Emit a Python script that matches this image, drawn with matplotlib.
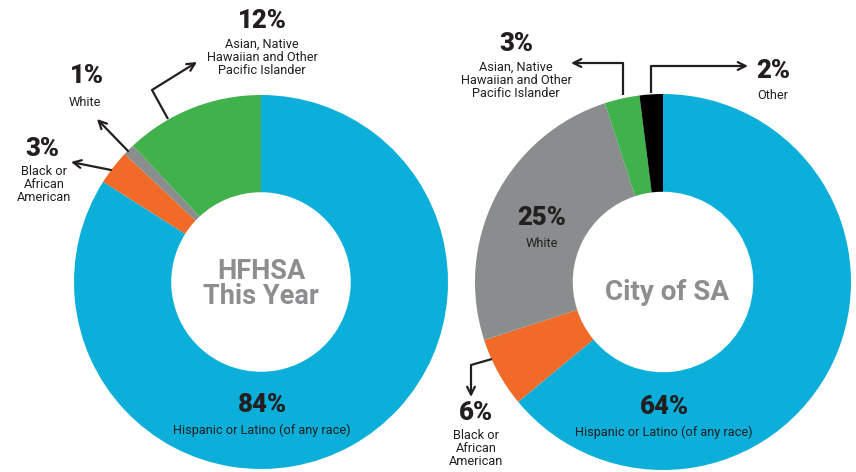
import matplotlib.pyplot as plt

plt.rcParams['font.family'] = ['Roboto', 'DejaVu Sans']

# data
left_labels = ["Hispanic or Latino (of any race)", "Black or\nAfrican\nAmerican", "White",
               "Asian, Native\nHawaiian and Other\nPacific Islander"]
left_values = [84, 3, 1, 12]
left_colors = ["#0BAFD9", "#F26A27", "#8A8D8D", "#40B14B"]

right_labels = ["Hispanic or Latino (of any race)", "Black or\nAfrican\nAmerican", "White",
                "Asian, Native\nHawaiian and Other\nPacific Islander", "Other"]
right_values = [64, 6, 25, 3, 2]
right_colors = ["#0BAFD9", "#F26A27", "#8A8D8D", "#40B14B", "#000000"]

W, H = 856, 472
DARK = "#231F20"
GREY = "#8C8E90"

fig = plt.figure(figsize=(W / 100, H / 100), dpi=100)
ax = fig.add_axes([0, 0, 1, 1])


def py(y):
    # pixel row -> data y
    return H - y


def donut(values, colors, cx, cy, r):
    ax.pie(values, colors=colors, startangle=90, counterclock=False,
           center=(cx, py(cy)), radius=r,
           wedgeprops=dict(width=r * 0.52, linewidth=0))


donut(left_values, left_colors, 261, 282, 187)
donut(right_values, right_colors, 663, 282, 188)

ax.set_xlim(0, W)
ax.set_ylim(0, H)
ax.set_aspect('equal')
ax.axis('off')


def pct(x, y, s):
    ax.text(x, py(y), s, ha='center', va='center', fontsize=18.5,
            fontweight='heavy', color=DARK)


def lab(x, y, s):
    ax.text(x, py(y), s, ha='center', va='top', fontsize=9.2,
            color=DARK, linespacing=1.0)


def arrow(points):
    xs = [p[0] for p in points]
    ys = [py(p[1]) for p in points]
    ax.plot(xs[:-1], ys[:-1], color=DARK, lw=1.6, solid_capstyle='butt')
    ax.annotate("", xy=(xs[-1], ys[-1]), xytext=(xs[-2], ys[-2]),
                arrowprops=dict(arrowstyle='->', color=DARK, lw=1.6,
                                mutation_scale=14, shrinkA=0, shrinkB=0))


# left chart labels
pct(262, 21, f"{left_values[3]}%")
lab(262, 38, left_labels[3])
pct(87, 76, f"{left_values[2]}%")
lab(85, 96, left_labels[2])
pct(42, 149, f"{left_values[1]}%")
lab(44, 165, left_labels[1])
pct(262, 405, f"{left_values[0]}%")
lab(262, 424, left_labels[0])

arrow([(168, 119), (152, 90), (197, 62)])
arrow([(128, 151), (97, 119)])
arrow([(111, 170), (71, 162)])

ax.text(261, py(284), "HFHSA\nThis Year", ha='center', va='center', fontsize=19.5,
        fontweight='bold', color=GREY, linespacing=0.95)

# right chart labels
pct(516, 44, f"{right_values[3]}%")
lab(516, 61, right_labels[3])
pct(773, 71, f"{right_values[4]}%")
lab(773, 89, right_labels[4])
pct(542, 218, f"{right_values[2]}%")
lab(542, 237, right_labels[2])
pct(476, 413, f"{right_values[1]}%")
lab(476, 429, right_labels[1])
pct(664, 407, f"{right_values[0]}%")
lab(664, 426, right_labels[0])

arrow([(623, 95), (623, 63), (571, 63)])
arrow([(651, 93), (651, 66), (748, 66)])
arrow([(492, 359), (471, 365), (471, 397)])

ax.text(667, py(292), "City of SA", ha='center', va='center', fontsize=20,
        fontweight='bold', color=GREY)

fig.savefig("out.png", dpi=100)
